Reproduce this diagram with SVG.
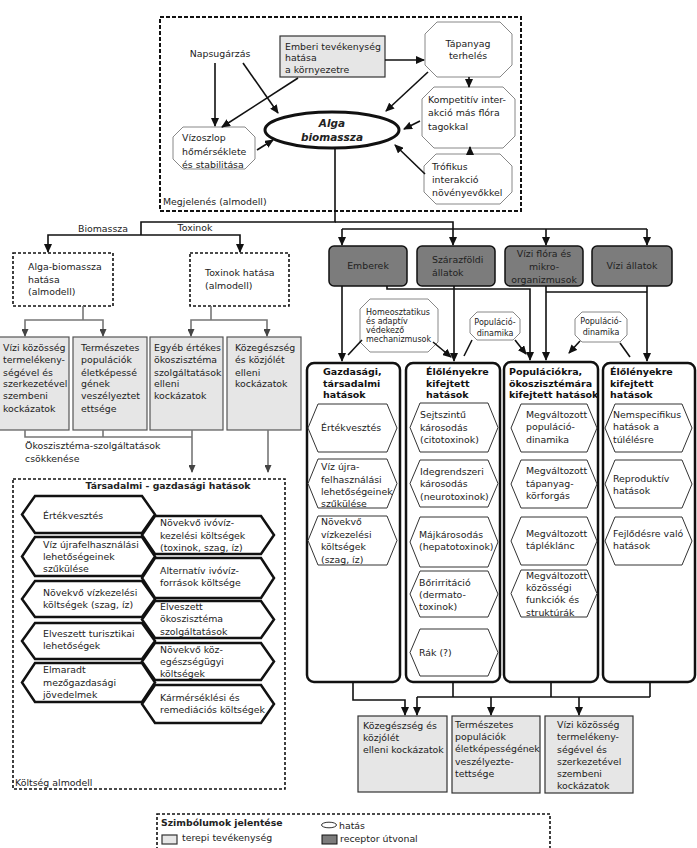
<svg xmlns="http://www.w3.org/2000/svg" width="697" height="848" viewBox="0 0 697 848">
<style>
text{font-family:"DejaVu Sans","Liberation Sans",sans-serif;font-size:9.4px;fill:#222}
.b{font-weight:bold;font-size:9.5px;fill:#111}
.mid{text-anchor:middle}
.dash{fill:none;stroke:#111;stroke-width:1.6;stroke-dasharray:3 2}
.oct{fill:#fff;stroke:#888;stroke-width:1}
.ter{fill:#e6e6e6;stroke:#333;stroke-width:1.2}
.tg{fill:#e6e6e6;stroke:#555;stroke-width:1.2}
.rec{fill:#7c7c7c;stroke:#111;stroke-width:1.5}
.imp{fill:#fff;stroke:#111;stroke-width:2.5}
.hx{fill:#fff;stroke:#333;stroke-width:1}
.hk{fill:#fff;stroke:#111;stroke-width:2.5}
.c{fill:none;stroke:#111;stroke-width:1.6}
.cg{fill:none;stroke:#777;stroke-width:1.6}
.ce{fill:none;stroke:#111;stroke-width:1.6;marker-end:url(#a)}
.cge{fill:none;stroke:#777;stroke-width:1.6;marker-end:url(#g)}
</style>
<defs>
<marker id="a" markerUnits="userSpaceOnUse" markerWidth="9" markerHeight="8" refX="8" refY="4" orient="auto"><path d="M0,0 L9,4 L0,8 z" fill="#111"/></marker>
<marker id="g" markerUnits="userSpaceOnUse" markerWidth="8" markerHeight="7" refX="7" refY="3.5" orient="auto"><path d="M0,0 L8,3.5 L0,7 z" fill="#444"/></marker>
</defs>
<rect width="697" height="848" fill="#fff"/>

<!-- Megjelenés submodel -->
<g id="megjelenes">
<rect class="dash" x="160" y="17" width="361" height="194" style="stroke-width:2;stroke-dasharray:4 2"/>
<text x="163" y="205">Megjelenés (almodell)</text>
</g>
<g id="napsugarzas"><text class="mid" x="220" y="57">Napsugárzás</text></g>
<g id="emberi"><rect class="ter" x="280" y="36" width="105" height="41"/>
<text x="285" y="50">Emberi tevékenység</text><text x="285" y="61">hatása</text><text x="285" y="73">a környezetre</text></g>
<g id="tapanyag"><polygon class="oct" points="437,22 500,22 512,34 512,65 500,77 437,77 425,65 425,34"/>
<text class="mid" x="468" y="47">Tápanyag</text><text class="mid" x="468" y="59">terhelés</text></g>
<g id="kompetitiv"><polygon class="oct" points="434,87 503,87 515,99 515,136 503,148 434,148 422,136 422,99"/>
<text x="428" y="103">Kompetitív inter-</text><text x="428" y="116">akció más flóra</text><text x="428" y="130">tagokkal</text></g>
<g id="trofikus"><polygon class="oct" points="436,154 500,154 512,166 512,192 500,204 436,204 424,192 424,166"/>
<text x="432" y="170">Trófikus</text><text x="432" y="183">interakció</text><text x="432" y="196">növényevőkkel</text></g>
<g id="vizoszlop"><polygon class="oct" points="183,127 245,127 255,137 255,159 245,169 183,169 173,159 173,137"/>
<text x="182" y="141">Vízoszlop</text><text x="182" y="155">hőmérséklete</text><text x="182" y="168">és stabilitása</text></g>
<g id="alga"><ellipse cx="332" cy="130" rx="67" ry="18" fill="#fff" stroke="#111" stroke-width="3"/>
<text class="mid" x="332" y="127" style="font-weight:bold;font-style:italic;font-size:10.5px">Alga</text>
<text class="mid" x="332" y="141" style="font-weight:bold;font-style:italic;font-size:10.5px">biomassza</text></g>

<!-- left submodels -->
<g id="alga-hatas"><rect class="dash" x="13" y="253" width="100" height="53"/>
<text x="28" y="270">Alga-biomassza</text><text x="28" y="283">hatása</text><text x="28" y="295">(almodell)</text></g>
<g id="toxin-hatas"><rect class="dash" x="190" y="253" width="99" height="53"/>
<text x="205" y="276">Toxinok hatása</text><text x="205" y="289">(almodell)</text></g>

<g id="risk1"><rect class="tg" x="-1" y="337" width="70" height="93"/>
<text x="3" y="351">Vízi közösség</text><text x="3" y="363">termelékeny-</text><text x="3" y="376">ségével és</text><text x="3" y="387">szerkezetével</text><text x="3" y="399">szembeni</text><text x="3" y="412">kockázatok</text></g>
<g id="risk2"><rect class="tg" x="73" y="337" width="74" height="93"/>
<text x="81" y="351">Természetes</text><text x="81" y="363">populációk</text><text x="81" y="376">életképessé</text><text x="81" y="387">gének</text><text x="81" y="399">veszélyeztet</text><text x="81" y="412">ettsége</text></g>
<g id="risk3"><rect class="tg" x="150" y="337" width="73" height="93"/>
<text x="154" y="351">Egyéb értékes</text><text x="154" y="363">ökoszisztéma</text><text x="154" y="376">szolgáltatások</text><text x="154" y="387">elleni</text><text x="154" y="399">kockázatok</text></g>
<g id="risk4"><rect class="tg" x="227" y="337" width="74" height="93"/>
<text x="235" y="351">Közegészség</text><text x="235" y="363">és közjólét</text><text x="235" y="376">elleni</text><text x="235" y="387">kockázatok</text></g>

<!-- Költség submodel -->
<g id="koltseg">
<rect class="dash" x="13" y="479" width="272" height="310"/>
<text class="mid" x="168" y="489" style="font-weight:bold;font-size:9.3px">Társadalmi - gazdasági hatások</text>
<text x="15" y="786">Költség almodell</text>
</g>
<g id="k-l1"><polygon class="hk" points="35,496 142,496 155,514.5 142,533 35,533 22,514.5"/><text x="43" y="519">Értékvesztés</text></g>
<g id="k-l2"><polygon class="hk" points="35,537 142,537 155,556.5 142,576 35,576 22,556.5"/><text x="43" y="548">Víz újrafelhasználási</text><text x="43" y="560">lehetőségeinek</text><text x="43" y="572">szűkülése</text></g>
<g id="k-l3"><polygon class="hk" points="35,581 142,581 155,599 142,617 35,617 22,599"/><text x="43" y="596">Növekvő vízkezelési</text><text x="43" y="608">költségek (szag, íz)</text></g>
<g id="k-l4"><polygon class="hk" points="35,623 142,623 155,641 142,659 35,659 22,641"/><text x="43" y="637">Elveszett turisztikai</text><text x="43" y="649">lehetőségek</text></g>
<g id="k-l5"><polygon class="hk" points="35,663 142,663 155,682.5 142,702 35,702 22,682.5"/><text x="43" y="673">Elmaradt</text><text x="43" y="686">mezőgazdasági</text><text x="43" y="698">jövedelmek</text></g>
<g id="k-r1"><polygon class="hk" points="155,516 261,516 274,535 261,554 155,554 142,535"/><text x="160" y="526">Növekvő ivóvíz-</text><text x="160" y="539">kezelési költségek</text><text x="160" y="551">(toxinok, szag, íz)</text></g>
<g id="k-r2"><polygon class="hk" points="155,558 261,558 274,578 261,598 155,598 142,578"/><text x="160" y="574">Alternatív ivóvíz-</text><text x="160" y="586">források költsége</text></g>
<g id="k-r3"><polygon class="hk" points="155,601 261,601 274,619.5 261,638 155,638 142,619.5"/><text x="160" y="610">Elveszett</text><text x="160" y="622">ökoszisztéma</text><text x="160" y="635">szolgáltatások</text></g>
<g id="k-r4"><polygon class="hk" points="155,643 261,643 274,661.5 261,680 155,680 142,661.5"/><text x="160" y="653">Növekvő köz-</text><text x="160" y="665">egészségügyi</text><text x="160" y="677">költségek</text></g>
<g id="k-r5"><polygon class="hk" points="155,685 261,685 274,704 261,723 155,723 142,704"/><text x="160" y="701">Kármérséklési és</text><text x="160" y="713">remediációs költségek</text></g>

<!-- receptors -->
<g id="emberek"><rect class="rec" x="329" y="246" width="78" height="40" rx="5"/><text class="mid" x="368" y="269">Emberek</text></g>
<g id="szarazfoldi"><rect class="rec" x="417" y="246" width="78" height="40" rx="5"/><text x="432" y="263">Szárazföldi</text><text x="432" y="276">állatok</text></g>
<g id="viziflora"><rect class="rec" x="505" y="246" width="78" height="40" rx="5"/><text class="mid" x="544" y="257">Vízi flóra és</text><text class="mid" x="544" y="270">mikro-</text><text class="mid" x="544" y="283">organizmusok</text></g>
<g id="viziallatok"><rect class="rec" x="592" y="246" width="80" height="40" rx="5"/><text class="mid" x="632" y="269">Vízi állatok</text></g>

<!-- hatás octagons -->
<g id="homeo"><polygon class="oct" points="370,299 428,299 438,309 438,342 428,352 370,352 360,342 360,309"/>
<text x="366" y="315" style="font-size:8px">Homeosztatikus</text><text x="366" y="324" style="font-size:8px">és adaptív</text><text x="366" y="333" style="font-size:8px">védekező</text><text x="366" y="342" style="font-size:8px">mechanizmusok</text></g>
<g id="popdin1"><polygon class="oct" points="477,312 513,312 520,319 520,333 513,340 477,340 470,333 470,319"/>
<text class="mid" x="495" y="325" style="font-size:8px">Populáció-</text><text class="mid" x="495" y="336" style="font-size:8px">dinamika</text></g>
<g id="popdin2"><polygon class="oct" points="582,312 620,312 627,319 627,335 620,342 582,342 575,335 575,319"/>
<text class="mid" x="601" y="324" style="font-size:8px">Populáció-</text><text class="mid" x="601" y="335" style="font-size:8px">dinamika</text></g>

<!-- impact columns -->
<g id="gazdasagi"><rect class="imp" x="307" y="363" width="93" height="319" rx="7"/>
<text class="b" x="323" y="375">Gazdasági,</text><text class="b" x="323" y="387">társadalmi</text><text class="b" x="323" y="398">hatások</text>
<polygon class="hx" points="318,404 387,404 397,428 387,452 318,452 308,428"/><text x="321" y="431">Értékvesztés</text>
<polygon class="hx" points="318,459 387,459 397,483.5 387,508 318,508 308,483.5"/><text x="321" y="470">Víz újra-</text><text x="321" y="483">felhasználási</text><text x="321" y="495">lehetőségeinek</text><text x="321" y="507">szűkülése</text>
<polygon class="hx" points="318,516 387,516 397,540.5 387,565 318,565 308,540.5"/><text x="321" y="525">Növekvő</text><text x="321" y="538">vízkezelési</text><text x="321" y="550">költségek</text><text x="321" y="563">(szag, íz)</text>
</g>
<g id="elolenyekre1"><rect class="imp" x="406" y="363" width="94" height="319" rx="7"/>
<text class="b" x="426" y="375">Élőlényekre</text><text class="b" x="426" y="387">kifejtett</text><text class="b" x="426" y="398">hatások</text>
<polygon class="hx" points="420,403 488,403 498,427.5 488,452 420,452 410,427.5"/><text x="420" y="418">Sejtszintű</text><text x="420" y="431">károsodás</text><text x="420" y="443">(citotoxinok)</text>
<polygon class="hx" points="420,460 488,460 498,483.5 488,507 420,507 410,483.5"/><text x="420" y="475">Idegrendszeri</text><text x="420" y="487">károsodás</text><text x="420" y="500">(neurotoxinok)</text>
<polygon class="hx" points="420,517 488,517 498,542 488,567 420,567 410,542"/><text x="419" y="538">Májkárosodás</text><text x="419" y="550">(hepatotoxinok)</text>
<polygon class="hx" points="420,571 488,571 498,594 488,617 420,617 410,594"/><text x="419" y="586">Bőrirritáció</text><text x="419" y="598">(dermato-</text><text x="419" y="610">toxinok)</text>
<polygon class="hx" points="420,629 488,629 498,652.5 488,676 420,676 410,652.5"/><text x="419" y="656">Rák (?)</text>
</g>
<g id="populaciokra"><rect class="imp" x="504" y="362" width="94" height="320" rx="7"/>
<text class="b" x="509" y="375">Populációkra,</text><text class="b" x="509" y="387">ökoszisztémára</text><text class="b" x="509" y="398">kifejtett hatások</text>
<polygon class="hx" points="521,404 587,404 597,428 587,452 521,452 511,428"/><text x="526" y="418">Megváltozott</text><text x="526" y="430">populáció-</text><text x="526" y="443">dinamika</text>
<polygon class="hx" points="521,460 587,460 597,484 587,508 521,508 511,484"/><text x="526" y="474">Megváltozott</text><text x="526" y="487">tápanyag-</text><text x="526" y="499">körforgás</text>
<polygon class="hx" points="521,517 587,517 597,541 587,565 521,565 511,541"/><text x="526" y="537">Megváltozott</text><text x="526" y="549">tápléklánc</text>
<polygon class="hx" points="521,570 587,570 597,593.5 587,617 521,617 511,593.5"/><text x="526" y="579">Megváltozott</text><text x="526" y="591">közösségi</text><text x="526" y="603">funkciók és</text><text x="526" y="616">struktúrák</text>
</g>
<g id="elolenyekre2"><rect class="imp" x="603" y="363" width="92" height="319" rx="7"/>
<text class="b" x="610" y="375">Élőlényekre</text><text class="b" x="610" y="387">kifejtett</text><text class="b" x="610" y="398">hatások</text>
<polygon class="hx" points="615,404 682,404 692,428 682,452 615,452 605,428"/><text x="613" y="418">Nemspecifikus</text><text x="613" y="430">hatások a</text><text x="613" y="443">túlélésre</text>
<polygon class="hx" points="615,460 682,460 692,484 682,508 615,508 605,484"/><text x="613" y="482">Reproduktív</text><text x="613" y="494">hatások</text>
<polygon class="hx" points="615,517 682,517 692,541 682,565 615,565 605,541"/><text x="613" y="537">Fejlődésre való</text><text x="613" y="549">hatások</text>
</g>

<!-- bottom risks -->
<g id="kozegeszseg"><rect class="ter" x="358" y="716" width="89" height="76"/>
<text x="363" y="729">Közegészség és</text><text x="363" y="741">közjólét</text><text x="363" y="753">elleni kockázatok</text></g>
<g id="termeszetes"><rect class="ter" x="452" y="716" width="88" height="77"/>
<text x="455" y="728">Természetes</text><text x="455" y="740">populációk</text><text x="455" y="752">életképességének</text><text x="455" y="765">veszélyezte-</text><text x="455" y="777">tettsége</text></g>
<g id="vizikozosseg"><rect class="ter" x="545" y="716" width="88" height="77"/>
<text x="557" y="728">Vízi közösség</text><text x="557" y="740">termelékeny-</text><text x="557" y="753">ségével és</text><text x="557" y="765">szerkezetével</text><text x="557" y="777">szembeni</text><text x="557" y="789">kockázatok</text></g>

<!-- legend -->
<g id="legend">
<rect class="dash" x="157" y="814" width="393" height="50"/>
<text x="161" y="826" style="font-weight:bold;font-size:9.3px">Szimbólumok jelentése</text>
<rect class="ter" x="162" y="835" width="15" height="9"/>
<text x="182" y="841">terepi tevékenység</text>
<ellipse cx="329" cy="825" rx="7.5" ry="2.8" fill="#fff" stroke="#333" stroke-width="1"/>
<text x="339" y="829">hatás</text>
<rect class="rec" x="322" y="835" width="15" height="9" style="stroke-width:1"/>
<text x="340" y="842">receptor útvonal</text>
</g>

<!-- connectors -->
<g id="connectors">
<path class="ce" d="M215,63 V126"/>
<path class="ce" d="M243,63 L278,113"/>
<path class="ce" d="M298,78 L222,127"/>
<path class="ce" d="M385,60 H424"/>
<path class="ce" d="M428,72 L386,111"/>
<path class="ce" d="M469,77 V87"/>
<path class="ce" d="M420,121 L404,129"/>
<path class="ce" d="M425,174 L395,145"/>
<path class="ce" d="M470,155 V147"/>
<path class="ce" d="M257,150 L273,140"/>

<path class="c" d="M335,148 V222 H141 V235"/>
<path class="ce" d="M141,235 H48 V252"/>
<path class="ce" d="M141,235 H240 V252"/>
<path class="ce" d="M335,222 H453 V245"/>
<path class="c" d="M342,229 H647"/>
<path class="ce" d="M342,229 V245"/>
<path class="ce" d="M546,229 V245"/>
<path class="ce" d="M647,229 V245"/>

<path class="ce" d="M342,286 V361"/>
<path class="ce" d="M387,286 V289 H530 V360"/>
<path class="ce" d="M454,286 V361"/>
<path class="ce" d="M546,286 V360"/>
<path class="c" d="M546,292 H647"/>
<path class="ce" d="M647,286 V361"/>

<path class="c" d="M362,340 L348,355"/>
<path class="ce" d="M433,342 L451,357"/>
<path class="c" d="M472,340 L464,356"/>
<path class="ce" d="M515,340 L526,354"/>
<path class="ce" d="M580,341 L569,353"/>
<path class="c" d="M620,343 L630,357"/>

<path class="ce" d="M353,683 V700 H405 V715"/>
<path class="c" d="M417,697 H650"/>
<path class="c" d="M453,683 V697"/>
<path class="c" d="M551,683 V697"/>
<path class="c" d="M650,683 V697"/>
<path class="ce" d="M417,697 V715"/>
<path class="ce" d="M491,697 V715"/>
<path class="ce" d="M579,697 V715"/>

<text class="mid" x="103" y="232">Biomassza</text>
<text class="mid" x="195" y="231">Toxinok</text>

<path class="cg" d="M83,306 V320"/>
<path class="cge" d="M64,320 H25 V336"/>
<path class="cge" d="M64,320 H103 V336"/>
<path class="cg" d="M211,306 V320"/>
<path class="cge" d="M211,320 H191 V336"/>
<path class="cge" d="M211,320 H267 V336"/>

<path class="cg" d="M25,430 V437 H192"/>
<path class="cg" d="M103,430 V437"/>
<path class="cge" d="M192,430 V472"/>
<path class="cge" d="M268,430 V472"/>
<text x="25" y="449">Ökoszisztéma-szolgáltatások</text>
<text x="25" y="462">csökkenése</text>
</g>
</svg>
